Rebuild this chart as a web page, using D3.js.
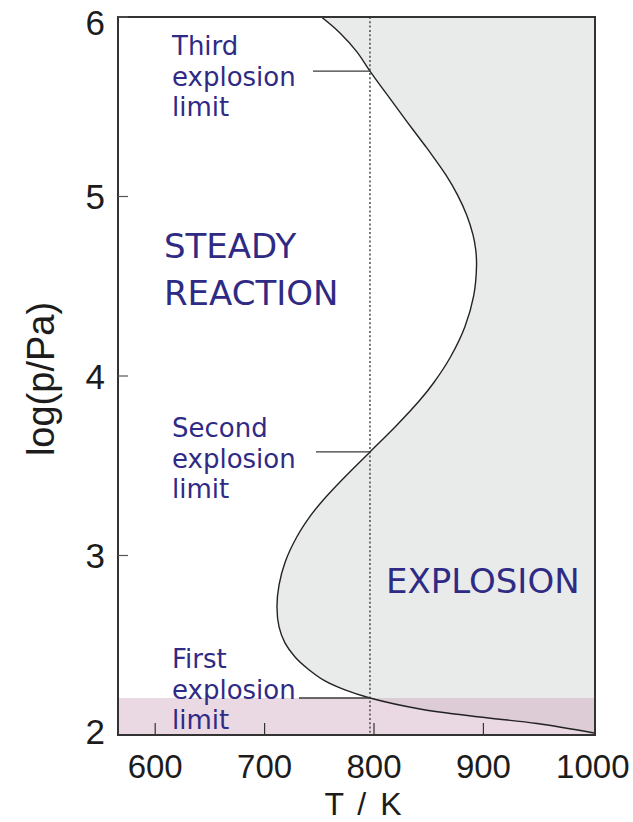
<!DOCTYPE html>
<html>
<head>
<meta charset="utf-8">
<script src="https://cdn.jsdelivr.net/npm/d3@7"></script>
<style>
  body { margin: 0; background: #fff; }
  svg { display: block; }
</style>
</head>
<body>
<svg id="chart" width="633" height="822"></svg>
<script>
// Axis ranges and tick values
const tempDomain = [566, 1002];
const logpDomain = [2, 6];
const tempTicks = [600, 700, 800, 900, 1000];
const logpTicks = [2, 3, 4, 5, 6];

// Explosion boundary, T / K against log(p/Pa), from high to low pressure
const boundaryT = [752.0, 768.9, 784.2, 796.3, 815.5, 831.1, 846.2, 853.0, 865.7, 876.4,
  884.7, 890.5, 893.0, 893.7, 891.1, 883.0, 869.9, 854.4, 842.0, 821.0,
  796.3, 768.0, 753.6, 742.5, 729.4, 718.8, 713.2, 711.3, 713.2, 718.6,
  727.8, 739.7, 755.2, 773.5, 796.3, 842.0, 896.9, 949.0, 1001.1];
const boundaryLogP = [6.000, 5.911, 5.807, 5.699, 5.538, 5.409, 5.287, 5.231, 5.120, 5.008,
  4.897, 4.786, 4.702, 4.613, 4.446, 4.273, 4.106, 3.961, 3.866, 3.727,
  3.577, 3.404, 3.309, 3.226, 3.103, 2.964, 2.836, 2.713, 2.602, 2.513,
  2.435, 2.368, 2.301, 2.251, 2.206, 2.145, 2.100, 2.064, 2.011];

// Isotherm through the three limits and the pressures where it meets them
const probeT = 796.3;
const limitNames = ["Third", "Second", "First"];
const limitLogP = [5.699, 3.577, 2.206];
const leaderStartT = [744.2, 747.0, 731.4];

// Region names
const regionSteady = ["STEADY", "REACTION"];
const regionExplosion = "EXPLOSION";

const boundary = boundaryT.map((t, i) => ({ T: t, v: boundaryLogP[i] }));

const svg = d3.select("#chart");
const plotLeft = 118, plotRight = 595, plotTop = 17, plotBottom = 735;

const x = d3.scaleLinear().domain(tempDomain).range([plotLeft, plotRight]);
const y = d3.scaleLinear().domain(logpDomain).range([plotBottom, plotTop]);

const ink = "#1c1c1c";
const blue = "#2f2a84";
const axisFont = "'Liberation Sans', Arial, sans-serif";
const labelFont = "'Comic Sans MS', 'DejaVu Sans', sans-serif";

svg.append("clipPath").attr("id", "plot-clip")
  .append("rect").attr("x", plotLeft).attr("y", plotTop)
  .attr("width", plotRight - plotLeft).attr("height", plotBottom - plotTop);

const plot = svg.append("g").attr("clip-path", "url(#plot-clip)");

const curve = d3.curveCatmullRom.alpha(0.5);

// Explosion region: everything to the right of the boundary
plot.append("path")
  .datum(boundary)
  .attr("d", d3.area()
    .curve(curve)
    .y(d => y(d.v))
    .x0(d => x(d.T))
    .x1(x(tempDomain[1])))
  .attr("fill", "#e9ebea");

// Band below the first explosion limit
plot.append("rect")
  .attr("x", x(tempDomain[0]))
  .attr("width", x(tempDomain[1]) - x(tempDomain[0]))
  .attr("y", y(limitLogP[2]))
  .attr("height", y(logpDomain[0]) - y(limitLogP[2]))
  .attr("fill", "rgb(202,157,185)")
  .attr("fill-opacity", 0.4);

// Dotted isotherm
plot.append("line")
  .attr("x1", x(probeT)).attr("x2", x(probeT))
  .attr("y1", y(logpDomain[1])).attr("y2", y(logpDomain[0]))
  .attr("stroke", "#4a4a4a")
  .attr("stroke-width", 1.5)
  .attr("stroke-dasharray", "2,2.3");

// Boundary curve
plot.append("path")
  .datum(boundary)
  .attr("d", d3.line().curve(curve).x(d => x(d.T)).y(d => y(d.v)))
  .attr("fill", "none")
  .attr("stroke", "#222")
  .attr("stroke-width", 1.4);

// Leader lines from labels to the limits
svg.selectAll("line.leader")
  .data(limitLogP)
  .join("line")
  .attr("class", "leader")
  .attr("x1", (d, i) => x(leaderStartT[i]))
  .attr("x2", x(probeT))
  .attr("y1", d => y(d))
  .attr("y2", d => y(d))
  .attr("stroke", "#3a3a3a")
  .attr("stroke-width", 1.3);

// Frame
svg.append("rect")
  .attr("x", plotLeft).attr("y", plotTop)
  .attr("width", plotRight - plotLeft).attr("height", plotBottom - plotTop)
  .attr("fill", "none")
  .attr("stroke", "#333")
  .attr("stroke-width", 2);

// Inward ticks
svg.selectAll("line.xtick")
  .data(tempTicks.filter(t => t < tempDomain[1] - 5))
  .join("line")
  .attr("class", "xtick")
  .attr("x1", d => x(d)).attr("x2", d => x(d))
  .attr("y1", plotBottom).attr("y2", plotBottom - 12)
  .attr("stroke", "#333").attr("stroke-width", 1.2);

svg.selectAll("line.ytick")
  .data(logpTicks.filter(v => v > logpDomain[0]))
  .join("line")
  .attr("class", "ytick")
  .attr("x1", plotLeft).attr("x2", plotLeft + 10)
  .attr("y1", d => y(d)).attr("y2", d => y(d))
  .attr("stroke", "#555").attr("stroke-width", 1.2);

// Tick labels
svg.selectAll("text.xlab")
  .data(tempTicks)
  .join("text")
  .attr("class", "xlab")
  .attr("x", d => x(d))
  .attr("y", 778)
  .attr("text-anchor", "middle")
  .attr("font-family", axisFont)
  .attr("font-size", 33)
  .attr("fill", ink)
  .text(d => d);

svg.selectAll("text.ylab")
  .data(logpTicks)
  .join("text")
  .attr("class", "ylab")
  .attr("x", 105)
  .attr("y", d => Math.max(Math.min(y(d), plotBottom - 4), plotTop + 5))
  .attr("dy", "0.36em")
  .attr("text-anchor", "end")
  .attr("font-family", axisFont)
  .attr("font-size", 35)
  .attr("fill", ink)
  .text(d => d);

// Axis titles
svg.append("text")
  .attr("x", 363).attr("y", 815)
  .attr("text-anchor", "middle")
  .attr("font-family", axisFont)
  .attr("font-size", 32)
  .attr("word-spacing", 5)
  .attr("fill", ink)
  .text("T / K");

svg.append("text")
  .attr("transform", "translate(54,379) rotate(-90)")
  .attr("text-anchor", "middle")
  .attr("font-family", axisFont)
  .attr("font-size", 38)
  .attr("fill", ink)
  .text("log(p/Pa)");

// Limit labels
const labelTops = [55, 437, 668];
limitNames.forEach((name, i) => {
  const t = svg.append("text")
    .attr("font-family", labelFont)
    .attr("font-size", 26)
    .attr("fill", blue);
  [name, "explosion", "limit"].forEach((line, k) => {
    t.append("tspan")
      .attr("x", 172)
      .attr("y", labelTops[i] + k * 30.5)
      .text(line);
  });
});

// Region labels
const steady = svg.append("text")
  .attr("font-family", labelFont)
  .attr("font-size", 34)
  .attr("fill", blue);
regionSteady.forEach((line, k) => {
  steady.append("tspan")
    .attr("x", 164)
    .attr("y", 258 + k * 47)
    .text(line);
});

svg.append("text")
  .attr("x", 386).attr("y", 593)
  .attr("font-family", labelFont)
  .attr("font-size", 34)
  .attr("fill", blue)
  .text(regionExplosion);
</script>
</body>
</html>
